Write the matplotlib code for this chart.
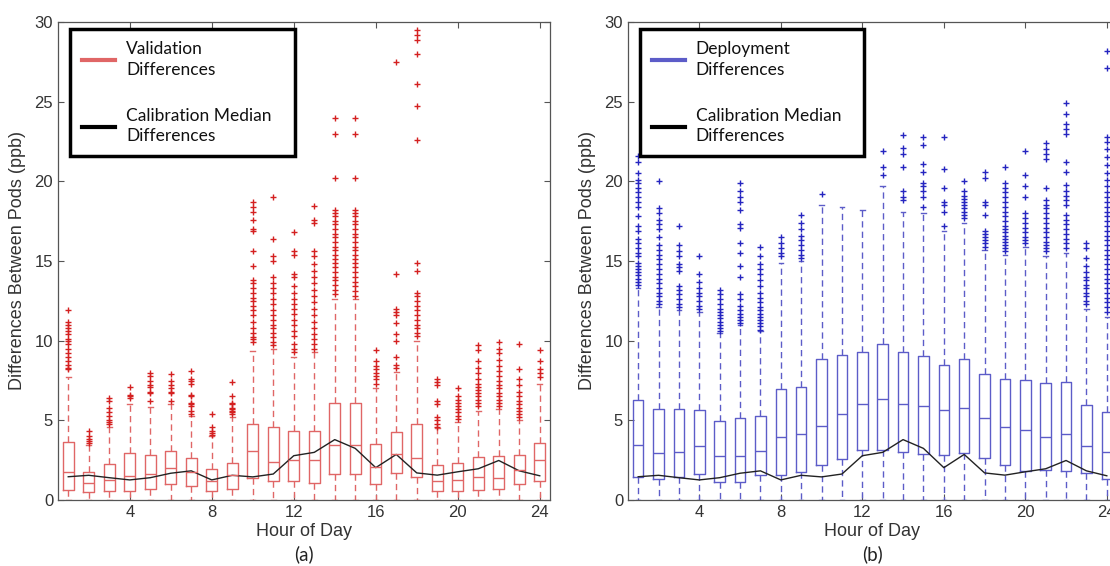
import matplotlib.pyplot as plt

hours = list(range(1, 25))

# calibration median line (same in both panels)
calib_median = [1.46, 1.55, 1.40, 1.26, 1.40, 1.68, 1.83, 1.26, 1.55, 1.45, 1.63, 2.78,
                2.99, 3.79, 3.24, 2.03, 2.86, 1.70, 1.56, 1.77, 1.96, 2.48, 1.83, 1.52]

# (a) validation differences - box stats per hour
val_q1 = [0.63, 0.48, 0.54, 0.58, 0.71, 1.02, 0.90, 0.54, 0.71, 1.39, 1.19, 1.19,
          1.07, 1.66, 1.66, 1.00, 1.72, 1.42, 0.54, 0.58, 0.62, 0.66, 1.02, 1.17]
val_med = [1.74, 1.09, 1.26, 1.51, 1.61, 1.99, 1.74, 1.20, 1.55, 3.07, 2.40, 2.49,
           2.49, 3.48, 3.48, 2.09, 2.87, 2.66, 1.17, 1.28, 1.42, 1.38, 1.90, 2.49]
val_q3 = [3.62, 1.74, 2.24, 2.93, 2.83, 3.10, 2.62, 1.93, 2.33, 4.77, 4.60, 4.33,
          4.35, 6.11, 6.11, 3.50, 4.26, 4.77, 2.20, 2.35, 2.68, 2.76, 2.80, 3.60]
val_whi = [7.74, 3.45, 4.60, 6.00, 5.86, 6.00, 5.30, 4.00, 5.20, 9.37, 9.50, 8.96,
           9.30, 12.6, 12.6, 7.00, 8.05, 10.0, 4.50, 4.90, 5.60, 5.70, 5.00, 7.26]
val_fliers = [
    [8.2, 8.3, 8.5, 8.7, 9.0, 9.2, 9.5, 9.8, 10.0, 10.1, 10.4, 10.6, 10.8, 11.0, 11.2, 11.9],
    [3.6, 3.7, 3.8, 4.0, 4.3],
    [4.8, 4.9, 5.0, 5.3, 5.5, 5.8, 6.2, 6.4],
    [6.4, 6.5, 6.6, 7.1],
    [6.2, 6.7, 6.8, 7.1, 7.2, 7.5, 7.8, 8.0],
    [6.2, 6.7, 6.8, 7.0, 7.2, 7.5, 7.9],
    [5.4, 5.6, 5.9, 6.0, 6.1, 6.5, 6.6, 7.3, 7.5, 7.6, 8.1],
    [4.1, 4.2, 4.3, 4.6, 5.4],
    [5.4, 5.5, 5.6, 5.7, 5.8, 6.0, 6.1, 6.5, 7.4],
    [9.9, 10.1, 10.2, 10.5, 10.8, 11.2, 11.6, 11.9, 12.2, 12.5, 12.7, 13.0, 13.3, 13.6,
     13.8, 14.7, 15.6, 16.9, 17.0, 17.6, 18.1, 18.4, 18.7],
    [9.7, 9.9, 10.2, 10.5, 10.8, 11.0, 11.3, 11.6, 11.9, 12.3, 12.6, 13.0, 13.3, 13.6,
     14.0, 15.0, 15.3, 16.4, 19.0],
    [9.3, 9.5, 9.8, 10.3, 10.6, 11.0, 11.3, 11.7, 12.0, 12.3, 12.6, 13.0, 13.4, 14.0,
     14.2, 15.4, 15.6, 16.8],
    [9.5, 9.8, 10.1, 10.4, 10.8, 11.2, 11.6, 12.0, 12.4, 12.8, 13.2, 13.6, 14.0, 14.4,
     14.8, 15.3, 15.6, 17.4, 17.6, 18.45],
    [12.9, 13.2, 13.5, 13.8, 14.0, 14.3, 14.6, 14.9, 15.1, 15.4, 15.7, 15.9, 16.2, 16.5,
     16.7, 17.0, 17.3, 17.5, 17.8, 18.0, 18.2, 20.2, 23.0, 24.0],
    [12.8, 13.1, 13.4, 13.7, 14.0, 14.3, 14.6, 14.9, 15.1, 15.4, 15.7, 15.9, 16.2, 16.5,
     16.7, 17.0, 17.3, 17.5, 17.8, 18.0, 18.2, 20.2, 23.0, 24.0],
    [7.3, 7.6, 7.8, 8.0, 8.2, 8.4, 8.7, 9.4],
    [8.3, 8.5, 9.0, 10.0, 10.4, 11.1, 11.6, 11.8, 12.0, 14.2, 27.5],
    [10.3, 10.5, 10.8, 11.0, 11.3, 11.6, 11.9, 12.2, 12.5, 12.8, 13.0, 14.4, 14.9,
     22.6, 24.7, 26.1, 28.0, 28.9, 29.2, 29.5],
    [4.6, 4.8, 5.0, 5.2, 6.0, 6.2, 7.2, 7.4, 7.6],
    [5.1, 5.3, 5.5, 5.7, 5.9, 6.1, 6.3, 6.5, 7.0],
    [5.9, 6.1, 6.3, 6.5, 6.7, 6.9, 7.1, 7.3, 7.6, 8.0, 8.3, 8.7, 9.4, 9.7],
    [5.9, 6.1, 6.3, 6.5, 6.7, 7.0, 7.2, 7.5, 7.8, 8.1, 8.4, 8.8, 9.2, 9.5, 9.9],
    [5.2, 5.4, 5.6, 5.8, 6.0, 6.2, 6.5, 6.8, 7.2, 7.6, 8.2, 9.8],
    [7.7, 8.0, 8.2, 8.7, 9.4],
]

# (b) deployment differences - box stats per hour
dep_q1 = [1.46, 1.34, 1.44, 1.63, 1.15, 1.15, 1.57, 1.57, 1.74, 2.20, 2.57, 3.14,
          3.12, 3.01, 2.89, 2.82, 2.97, 2.65, 2.20, 1.82, 1.88, 1.82, 1.67, 1.31]
dep_med = [3.45, 2.97, 3.03, 3.40, 2.76, 2.78, 3.05, 3.93, 4.14, 4.64, 5.40, 6.02,
           6.36, 6.02, 5.87, 5.66, 5.80, 5.16, 4.60, 4.39, 3.97, 4.12, 3.41, 3.00]
dep_q3 = [6.26, 5.71, 5.71, 5.67, 4.96, 5.13, 5.27, 6.97, 7.10, 8.85, 9.10, 9.27,
          9.79, 9.31, 9.04, 8.50, 8.83, 7.90, 7.60, 7.53, 7.32, 7.40, 5.96, 5.55]
dep_whi = [13.3, 12.1, 11.9, 11.8, 10.5, 11.0, 10.6, 14.9, 15.0, 18.5, 18.4, 18.2,
           19.7, 18.1, 18.0, 16.9, 17.4, 15.7, 15.4, 15.9, 15.3, 15.5, 12.0, 11.5]
dep_fliers = [
    [13.5, 13.7, 13.9, 14.1, 14.3, 14.5, 14.7, 14.9, 15.3, 15.5, 15.8, 16.1, 16.4, 16.9,
     17.2, 17.8, 18.4, 18.7, 19.0, 19.3, 19.6, 19.9, 20.1, 20.5, 21.2, 21.6],
    [12.3, 12.5, 12.8, 13.0, 13.3, 13.6, 13.9, 14.2, 14.5, 14.8, 15.1, 15.4, 15.7, 16.0,
     16.5, 17.0, 17.3, 17.6, 18.0, 18.3, 20.0],
    [12.1, 12.3, 12.6, 12.9, 13.2, 13.4, 14.4, 14.6, 14.8, 15.3, 15.6, 16.0, 17.2],
    [12.0, 12.2, 12.5, 12.8, 13.0, 13.3, 13.7, 14.2, 15.3],
    [10.6, 10.8, 11.0, 11.2, 11.4, 11.6, 11.8, 12.0, 12.3, 12.6, 12.9, 13.2],
    [11.1, 11.3, 11.5, 11.7, 11.9, 12.2, 12.6, 12.9, 14.0, 14.7, 15.5, 16.1, 17.1, 17.3,
     18.2, 18.7, 19.0, 19.4, 19.9],
    [10.7, 10.9, 11.1, 11.3, 11.5, 11.7, 11.9, 12.1, 12.4, 12.7, 13.0, 13.4, 13.8, 14.2,
     14.5, 14.8, 15.3, 15.9],
    [15.3, 15.5, 15.8, 16.1, 16.5],
    [15.2, 15.4, 15.7, 16.0, 16.3, 16.6, 17.0, 17.4, 17.9],
    [19.2],
    [],
    [],
    [20.4, 20.9, 21.9],
    [18.8, 19.0, 19.4, 20.9, 21.7, 22.1, 22.9],
    [18.4, 19.0, 19.4, 19.7, 19.9, 20.6, 21.1, 22.3, 22.8],
    [17.2, 18.1, 18.5, 18.7, 19.6, 20.8, 22.8],
    [17.7, 17.9, 18.1, 18.3, 18.5, 18.7, 18.9, 19.1, 19.4, 20.0],
    [15.9, 16.1, 16.3, 16.5, 16.7, 16.9, 17.9, 18.5, 18.7, 20.2, 20.6],
    [15.6, 15.8, 16.0, 16.2, 16.4, 16.6, 16.8, 17.0, 17.2, 17.5, 17.8, 18.1, 18.4, 18.7,
     19.0, 19.3, 19.6, 19.9, 20.9],
    [16.1, 16.3, 16.5, 16.8, 17.1, 17.4, 17.7, 18.0, 19.0, 19.7, 20.4, 21.9],
    [15.6, 15.8, 16.0, 16.2, 16.5, 16.8, 17.1, 17.4, 17.7, 18.0, 18.3, 18.5, 18.8, 19.6,
     21.4, 21.7, 22.0, 22.4],
    [15.8, 16.1, 16.4, 16.7, 17.0, 17.3, 17.6, 17.9, 18.5, 18.8, 19.1, 19.4, 19.8, 20.6,
     21.2, 23.0, 23.3, 23.6, 24.2, 24.9],
    [12.3, 12.5, 12.8, 13.0, 13.3, 13.5, 13.8, 14.0, 14.3, 14.7, 15.2, 15.8, 16.1],
    [11.8, 12.1, 12.4, 12.7, 13.0, 13.3, 13.6, 13.9, 14.2, 14.5, 14.8, 15.1, 15.4, 15.7,
     16.0, 16.3, 16.6, 16.9, 17.2, 17.5, 17.8, 18.1, 18.4, 18.7, 19.0, 19.3, 19.7, 20.1,
     20.5, 21.0, 21.5, 22.0, 22.5, 22.8, 27.1, 28.2],
]


def make_stats(q1, med, q3, whi, fliers):
    stats = []
    for i in range(len(q1)):
        stats.append(dict(whislo=0.0, q1=q1[i], med=med[i], q3=q3[i],
                          whishi=whi[i], fliers=fliers[i]))
    return stats


def draw_panel(ax, stats, box_col, flier_col, leg_label, sub):
    ax.bxp(stats, positions=hours, widths=0.52, capwidths=0.22, manage_ticks=False,
           boxprops=dict(color=box_col, lw=1.0),
           medianprops=dict(color=box_col, lw=1.0),
           whiskerprops=dict(color=box_col, lw=1.0, linestyle=(0, (4.5, 3))),
           capprops=dict(color=box_col, lw=1.0),
           flierprops=dict(marker='+', markeredgecolor=flier_col, markersize=4.5,
                           markeredgewidth=1.0, linestyle='none'))
    ax.plot(hours, calib_median, color='#222222', lw=1.0)
    ax.set_xlim(0.5, 24.5)
    ax.set_ylim(0, 30)
    ax.set_xticks([4, 8, 12, 16, 20, 24])
    ax.set_yticks([0, 5, 10, 15, 20, 25, 30])
    ax.tick_params(direction='in', top=True, right=True, length=4, width=0.8,
                   colors='#555555', labelcolor='#333333', labelsize=12)
    for s in ax.spines.values():
        s.set_color('#555555')
        s.set_linewidth(0.9)
    ax.set_xlabel('Hour of Day', fontsize=13, color='#333333', labelpad=2)
    ax.set_ylabel('Differences Between Pods (ppb)', fontsize=13, color='#333333', labelpad=6)
    h1, = ax.plot([], [], color=box_col, lw=3)
    h2, = ax.plot([], [], color='black', lw=3)
    leg = ax.legend([h1, h2], [leg_label, 'Calibration Median\nDifferences'],
                    loc='upper left', bbox_to_anchor=(0.024, 0.0, 0.458, 0.985),
                    mode='expand', frameon=True,
                    framealpha=1, fancybox=False, borderpad=0.68, labelspacing=1.75,
                    handlelength=1.9, handletextpad=0.65,
                    prop=dict(family='Lato', size=12.5), borderaxespad=0)
    leg.get_frame().set_edgecolor('black')
    leg.get_frame().set_linewidth(2.5)
    for t in leg.get_texts():
        t.set_linespacing(1.35)
        t.set_color('#111111')
    ax.text(0.5, -0.095, sub, transform=ax.transAxes, ha='center', va='top',
            fontsize=13.5, family='Lato', color='#222222')


fig = plt.figure(figsize=(11.1, 5.66), dpi=100)
plt.rcParams['font.family'] = ['Liberation Sans', 'DejaVu Sans']
ax1 = fig.add_axes([58 / 1110, 66 / 566, 492 / 1110, 478 / 566])
ax2 = fig.add_axes([628 / 1110, 66 / 566, 489 / 1110, 478 / 566])

draw_panel(ax1, make_stats(val_q1, val_med, val_q3, val_whi, val_fliers),
           '#e06666', '#d42020', 'Validation\nDifferences', '(a)')
draw_panel(ax2, make_stats(dep_q1, dep_med, dep_q3, dep_whi, dep_fliers),
           '#5c5cc8', '#2525c0', 'Deployment\nDifferences', '(b)')

fig.savefig('out.png', dpi=100)
